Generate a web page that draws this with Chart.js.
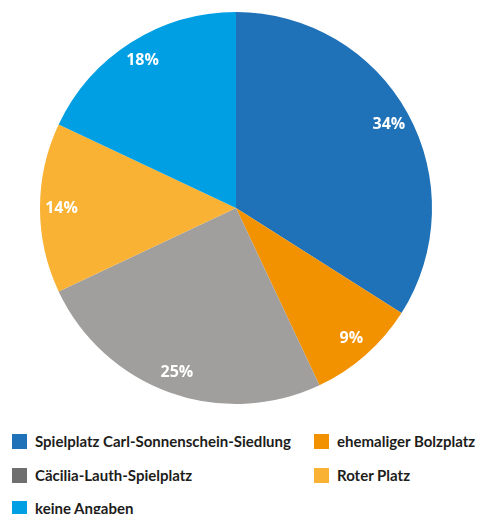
<!DOCTYPE html>
<html>
<head>
<meta charset="utf-8">
<script src="https://cdn.jsdelivr.net/npm/chart.js@4"></script>
<style>
  body { margin: 0; background: #fff; width: 482px; height: 514px; overflow: hidden; }
  .wrap { position: absolute; left: 0; top: 0; width: 472px; height: 416px; }
  .legend { position: absolute; left: 0; top: 0; width: 482px; font-family: "Lato", sans-serif; font-weight: 700; font-size: 15px; line-height: 18px; color: #1d1d1b; }
  .legend-item { position: absolute; white-space: nowrap; }
  .legend-item span.box { position: absolute; left: 0; top: 0; width: 15px; height: 15px; }
  .legend-item span.txt { position: absolute; left: 23px; top: -2px; }
</style>
</head>
<body>
<div class="wrap"><canvas id="pie"></canvas></div>
<div class="legend" id="legend"></div>
<script>
const categories = [
  "Spielplatz Carl-Sonnenschein-Siedlung",
  "ehemaliger Bolzplatz",
  "Cäcilia-Lauth-Spielplatz",
  "Roter Platz",
  "keine Angaben"
];
const shares = [34, 9, 25, 14, 18];

const sliceColors = ["#1f71b8", "#f39200", "#a09f9e", "#f9b233", "#009fe3"];
const legendColors = ["#1f71b8", "#f39200", "#706f6f", "#f9b233", "#009fe3"];

// Prozentwerte in den Segmenten
const sliceLabels = {
  id: "sliceLabels",
  afterDatasetsDraw(chart) {
    const ctx = chart.ctx;
    const meta = chart.getDatasetMeta(0);
    ctx.save();
    ctx.fillStyle = "#fff";
    ctx.font = "bold 16px 'Open Sans', sans-serif";
    ctx.textAlign = "center";
    ctx.textBaseline = "middle";
    meta.data.forEach((arc, i) => {
      const p = arc.getProps(["x", "y", "startAngle", "endAngle", "outerRadius"], true);
      const mid = (p.startAngle + p.endAngle) / 2;
      const r = p.outerRadius * 0.89;
      ctx.fillText(shares[i] + "%", p.x + Math.cos(mid) * r, p.y + Math.sin(mid) * r);
    });
    ctx.restore();
  }
};

new Chart(document.getElementById("pie"), {
  type: "pie",
  data: {
    labels: categories,
    datasets: [{
      data: shares,
      backgroundColor: sliceColors,
      borderWidth: 0
    }]
  },
  options: {
    responsive: true,
    maintainAspectRatio: false,
    animation: false,
    layout: { padding: { top: 12, bottom: 12, left: 0, right: 0 } },
    plugins: {
      legend: { display: false },
      tooltip: { enabled: false }
    }
  },
  plugins: [sliceLabels]
});

// Legende in zwei Spalten
const legendPos = [[12, 434], [314, 434], [12, 468], [314, 468], [12, 501]];
document.getElementById("legend").innerHTML = categories
  .map((name, i) => `
    <div class="legend-item" style="left:${legendPos[i][0]}px; top:${legendPos[i][1]}px;">
      <span class="box" style="background:${legendColors[i]}"></span>
      <span class="txt">${name}</span>
    </div>`)
  .join("");
</script>
</body>
</html>
